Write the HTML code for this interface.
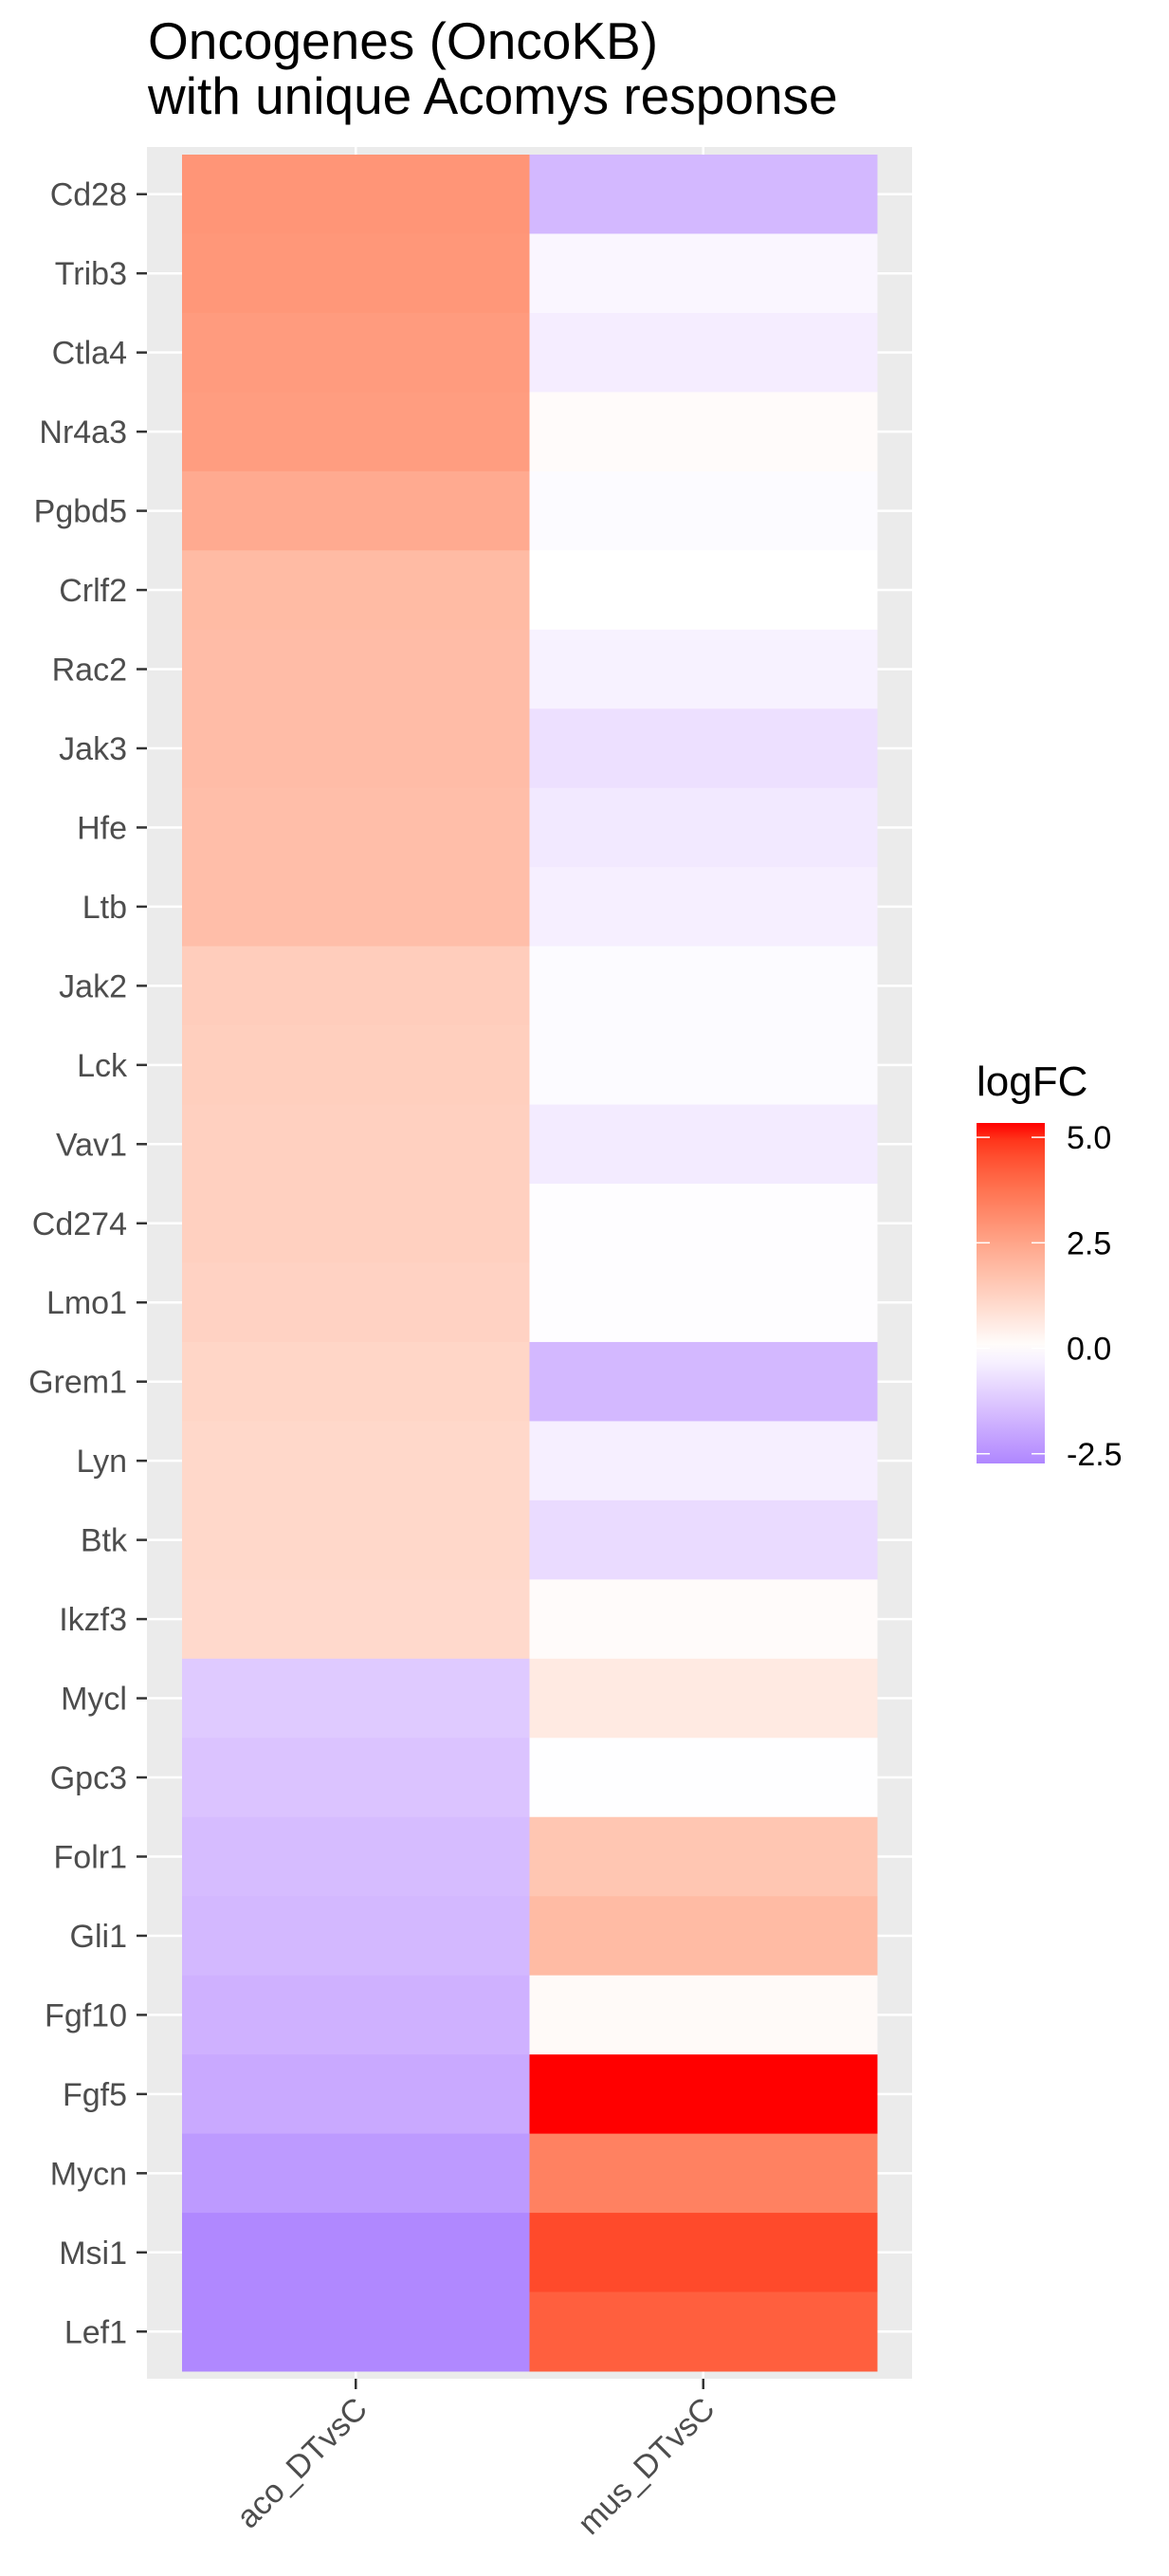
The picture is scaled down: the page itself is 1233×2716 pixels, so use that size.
<!DOCTYPE html>
<html><head><meta charset="utf-8"><style>
html,body{margin:0;padding:0;background:#fff;}
svg{display:block;font-family:"Liberation Sans",sans-serif;}
</style></head><body>
<svg id="chart" width="1233" height="2716" xmlns="http://www.w3.org/2000/svg">
<text x="156" y="62" font-size="55" fill="#000">Oncogenes (OncoKB)</text>
<text x="156" y="120" font-size="55" fill="#000">with unique Acomys response</text>
<rect x="155" y="155" width="807" height="2353" fill="#EBEBEB"/>
<g id="grid"></g><g id="tiles"></g><g id="yaxis"></g><g id="xaxis"></g>
<g id="legend">
<text x="1030" y="1155" font-size="44" fill="#000">logFC</text>
<defs><linearGradient id="lg" x1="0" y1="1" x2="0" y2="0"></linearGradient></defs>
<rect x="1030" y="1184" width="72" height="359" fill="url(#lg)"/>
<g id="legticks"></g>
</g>
</svg>
<script>
const genes=["Cd28","Trib3","Ctla4","Nr4a3","Pgbd5","Crlf2","Rac2","Jak3","Hfe","Ltb","Jak2","Lck","Vav1","Cd274","Lmo1","Grem1","Lyn","Btk","Ikzf3","Mycl","Gpc3","Folr1","Gli1","Fgf10","Fgf5","Mycn","Msi1","Lef1"];
const conditions=["aco_DTvsC","mus_DTvsC"];
const acoValues=[2.9,2.85,2.75,2.7,2.35,1.9,1.85,1.85,1.8,1.8,1.4,1.35,1.3,1.3,1.25,1.15,1.1,1.1,1.05,-1.2,-1.35,-1.5,-1.6,-1.75,-1.95,-2.3,-2.7,-2.7];
const musValues=[-1.6,-0.2,-0.4,0.1,-0.1,0.0,-0.3,-0.7,-0.5,-0.35,-0.1,-0.1,-0.45,-0.05,-0.05,-1.6,-0.35,-0.8,0.1,0.6,-0.03,1.6,1.9,0.15,5.34,3.4,4.6,4.2];
const legendTicks=[5.0,2.5,0.0,-2.5];
const legendLabels=["5.0","2.5","0.0","-2.5"];

const NS="http://www.w3.org/2000/svg";
function mk(t,a,p){const e=document.createElementNS(NS,t);for(const k in a)e.setAttribute(k,a[k]);p.appendChild(e);return e;}
const tileTop=163,rowH=(2500-163)/genes.length,tileLeft=192,colW=(925-192)/conditions.length;
const yScale=i=>tileTop+rowH*i;
const xScale=j=>tileLeft+colW*j;
const vMax=5.34,vMin=-2.73;
function s2l(c){c/=255;return c<=0.04045?c/12.92:Math.pow((c+0.055)/1.055,2.4);}
function l2s(c){c=c<=0.0031308?12.92*c:1.055*Math.pow(c,1/2.4)-0.055;return Math.max(0,Math.min(255,Math.round(c*255)));}
function toLab(r,g,b){r=s2l(r);g=s2l(g);b=s2l(b);let X=(0.4124*r+0.3576*g+0.1805*b)/0.95047,Y=0.2126*r+0.7152*g+0.0722*b,Z=(0.0193*r+0.1192*g+0.9505*b)/1.08883;const f=t=>t>0.008856?Math.cbrt(t):7.787*t+16/116;return [116*f(Y)-16,500*(f(X)-f(Y)),200*(f(Y)-f(Z))];}
function fromLab(L,a,b){const fy=(L+16)/116,fx=fy+a/500,fz=fy-b/200;const fi=t=>t*t*t>0.008856?t*t*t:(t-16/116)/7.787;const X=fi(fx)*0.95047,Y=fi(fy),Z=fi(fz)*1.08883;const r=3.2406*X-1.5372*Y-0.4986*Z,g=-0.9689*X+1.8758*Y+0.0415*Z,bb=0.0557*X-0.2040*Y+1.0570*Z;return "rgb("+l2s(r)+","+l2s(g)+","+l2s(bb)+")";}
const W=toLab(255,255,255),R=toLab(255,0,0),P=toLab(0xAF,0x87,0xFF);
function color(v){let t,c;if(v>=0){t=Math.min(1,v/vMax);c=R;}else{t=Math.min(1,v/vMin);c=P;}return fromLab(W[0]+(c[0]-W[0])*t,W[1]+(c[1]-W[1])*t,W[2]+(c[2]-W[2])*t);}
const grid=document.getElementById('grid');
genes.forEach((g,i)=>{const y=yScale(i)+rowH/2;
const l=mk('line',{x1:155,x2:962,y1:y,y2:y,stroke:'#fff','stroke-width':2.5},grid);

});
conditions.forEach((c,j)=>{const x=xScale(j)+colW/2;
const l=mk('line',{x1:x,x2:x,y1:155,y2:2508,stroke:'#fff','stroke-width':2.5},grid);

});
const tiles=document.getElementById('tiles');
[acoValues,musValues].forEach((vals,j)=>{vals.forEach((v,i)=>{
const r=mk('rect',{x:xScale(j),y:yScale(i),width:colW+0.5,height:rowH+0.5,fill:color(v)},tiles);

});});
const ya=document.getElementById('yaxis');
genes.forEach((g,i)=>{const y=yScale(i)+rowH/2;
const t=mk('line',{x1:144,x2:155,y1:y,y2:y,stroke:'#333','stroke-width':2.5},ya);


const tx=mk('text',{x:134,y:y+12,'text-anchor':'end','font-size':34,fill:'#4D4D4D'},ya);
tx.textContent=g;

});
const xa=document.getElementById('xaxis');
conditions.forEach((c,j)=>{const x=xScale(j)+colW/2;
const t=mk('line',{x1:x,x2:x,y1:2508,y2:2519,stroke:'#333','stroke-width':2.5},xa);


const tx=mk('text',{x:x+14,y:2542,'text-anchor':'end','font-size':34,fill:'#4D4D4D',transform:'rotate(-45 '+(x+14)+' 2542)'},xa);
tx.textContent=c;

});
const lg=document.getElementById('lg');
for(let k=0;k<=20;k++){const v=vMin+(vMax-vMin)*k/20;mk('stop',{offset:(k/20),'stop-color':color(v)},lg);}
const lt=document.getElementById('legticks');
const lY=v=>1543-(v-vMin)/(vMax-vMin)*359;
legendTicks.forEach((v,k)=>{const y=lY(v);
const a=mk('line',{x1:1030,x2:1044,y1:y,y2:y,stroke:'#fff','stroke-width':1.5},lt);


const b=mk('line',{x1:1088,x2:1102,y1:y,y2:y,stroke:'#fff','stroke-width':1.5},lt);


const tx=mk('text',{x:1125,y:y+12,'font-size':34,fill:'#000'},lt);
tx.textContent=legendLabels[k];

});
</script>
</body></html>
